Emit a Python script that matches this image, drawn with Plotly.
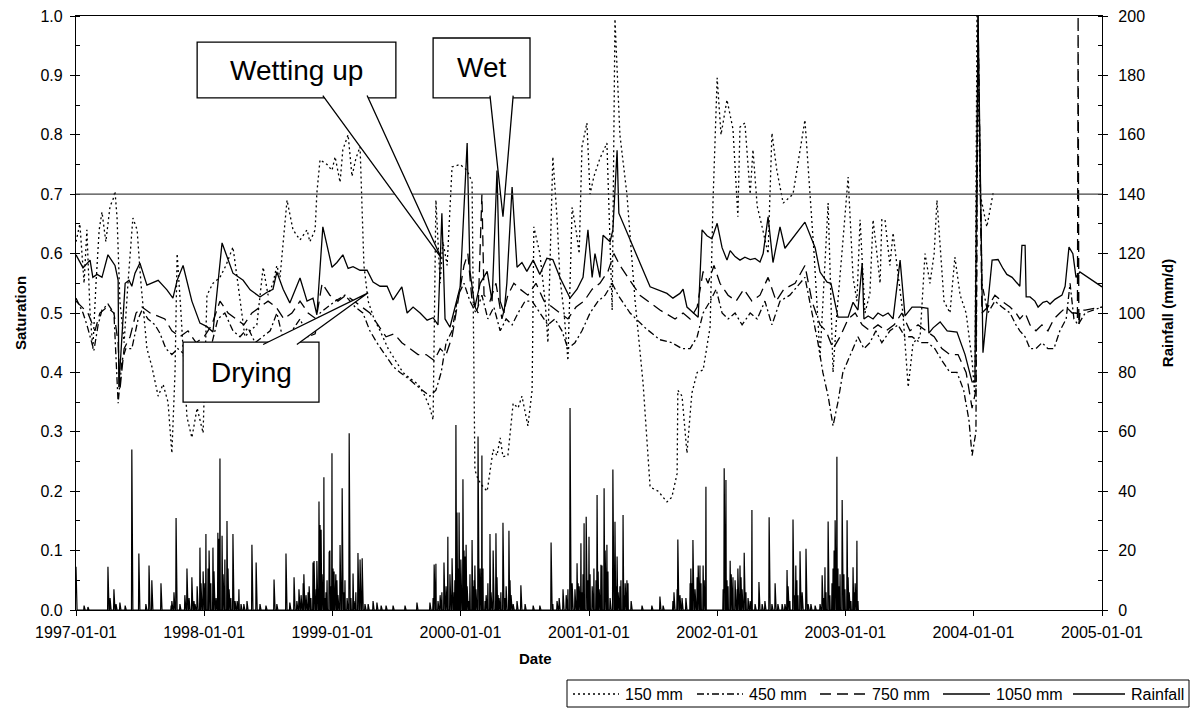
import numpy as np
import pandas as pd
import plotly.graph_objects as go

START = pd.Timestamp("1997-01-01")
FONT = "Liberation Sans, Arial, sans-serif"

# ---- Soil saturation readings (day offset from 1997-01-01, saturation) ----
day_150 = [0, 11, 23, 31, 40, 48, 57, 66, 74, 85, 97, 105, 111, 117, 125, 137, 148, 162, 174, 185,
           202, 216, 234, 248, 262, 273, 282, 288, 299, 316, 330, 345, 362, 373, 390, 410, 427, 447,
           461, 481, 496, 515, 533, 547, 561, 572, 581, 601, 618, 638, 658, 666, 681, 686, 695, 715,
           729, 738, 752, 760, 775, 786, 797, 809, 820, 832, 849, 866, 889, 909, 931, 951, 974, 994,
           1008, 1017, 1025, 1037, 1045, 1057, 1071, 1094, 1114, 1128, 1136, 1145, 1156, 1171, 1179,
           1188, 1199, 1208, 1216, 1230, 1245, 1259, 1270, 1287, 1299, 1304, 1321, 1336, 1344, 1358,
           1370, 1378, 1390, 1401, 1413, 1424, 1433, 1441, 1455, 1464, 1475, 1492, 1512, 1527, 1535,
           1549, 1569, 1592, 1615, 1635, 1658, 1683, 1697, 1712, 1714, 1726, 1740, 1754, 1769, 1786,
           1806, 1814, 1826, 1837, 1854, 1871, 1885, 1891, 1905, 1920, 1928, 1940, 1954, 1971, 1982,
           1996, 2014, 2042, 2076, 2090, 2102, 2119, 2142, 2156, 2167, 2184, 2199, 2213, 2224, 2233,
           2247, 2261, 2270, 2281, 2290, 2295, 2304, 2318, 2327, 2338, 2355, 2370, 2384, 2404, 2418,
           2432, 2444, 2452, 2461, 2472, 2489, 2503, 2518, 2535, 2552, 2560, 2566, 2575, 2594, 2612]
sat_150 = [0.62, 0.65, 0.55, 0.64, 0.50, 0.44, 0.55, 0.64, 0.67, 0.62, 0.68, 0.69, 0.705, 0.66, 0.52,
           0.45, 0.55, 0.66, 0.64, 0.55, 0.44, 0.41, 0.36, 0.38, 0.35, 0.264, 0.40, 0.60, 0.50, 0.325,
           0.29, 0.34, 0.298, 0.53, 0.55, 0.56, 0.58, 0.611, 0.55, 0.46, 0.47, 0.48, 0.577, 0.53, 0.55,
           0.58, 0.56, 0.69, 0.64, 0.623, 0.64, 0.62, 0.64, 0.702, 0.758, 0.75, 0.74, 0.763, 0.72, 0.775,
           0.80, 0.73, 0.76, 0.78, 0.58, 0.52, 0.49, 0.47, 0.44, 0.42, 0.40, 0.39, 0.38, 0.36, 0.34,
           0.32, 0.69, 0.55, 0.62, 0.58, 0.746, 0.75, 0.74, 0.72, 0.236, 0.22, 0.21, 0.20, 0.23, 0.27,
           0.26, 0.29, 0.258, 0.26, 0.348, 0.34, 0.36, 0.31, 0.37, 0.645, 0.60, 0.52, 0.45, 0.763, 0.66,
           0.56, 0.50, 0.42, 0.678, 0.64, 0.60, 0.78, 0.82, 0.70, 0.73, 0.76, 0.786, 0.505, 0.995, 0.80,
           0.70, 0.522, 0.382, 0.207, 0.20, 0.182, 0.19, 0.23, 0.37, 0.36, 0.264, 0.365, 0.40, 0.404,
           0.477, 0.685, 0.896, 0.80, 0.859, 0.81, 0.662, 0.813, 0.82, 0.70, 0.775, 0.68, 0.645, 0.60,
           0.803, 0.74, 0.685, 0.70, 0.825, 0.70, 0.60, 0.426, 0.685, 0.40, 0.50, 0.62, 0.729, 0.56,
           0.52, 0.657, 0.50, 0.533, 0.657, 0.60, 0.55, 0.657, 0.657, 0.58, 0.635, 0.58, 0.50, 0.375,
           0.45, 0.46, 0.60, 0.55, 0.60, 0.69, 0.62, 0.52, 0.50, 0.594, 0.53, 0.50, 0.42, 0.36, 1.0,
           0.70, 0.645, 0.702]

day_450 = [0, 20, 31, 40, 51, 63, 74, 91, 108, 120, 131, 142, 159, 177, 188, 205, 225, 239, 256, 273,
           290, 310, 330, 350, 367, 387, 404, 424, 447, 467, 490, 510, 530, 553, 572, 592, 615, 638,
           661, 681, 695, 715, 738, 766, 795, 817, 837, 857, 880, 903, 923, 946, 965, 985, 1008, 1025,
           1040, 1054, 1071, 1088, 1105, 1122, 1139, 1156, 1173, 1190, 1208, 1225, 1242, 1259, 1279,
           1299, 1321, 1344, 1364, 1384, 1401, 1421, 1441, 1464, 1487, 1507, 1527, 1544, 1578, 1621,
           1663, 1697, 1726, 1749, 1769, 1786, 1806, 1823, 1840, 1857, 1877, 1897, 1920, 1940, 1962,
           1982, 2005, 2033, 2076, 2096, 2113, 2127, 2142, 2156, 2170, 2184, 2199, 2213, 2227, 2244,
           2261, 2278, 2295, 2318, 2341, 2361, 2381, 2404, 2426, 2446, 2466, 2489, 2509, 2528, 2543,
           2552, 2563, 2569, 2580, 2597, 2617, 2637, 2660, 2677, 2688, 2703, 2717, 2734, 2751, 2768,
           2785, 2802, 2820, 2831, 2842, 2854, 2874, 2922]
sat_450 = [0.525, 0.50, 0.48, 0.46, 0.437, 0.48, 0.505, 0.515, 0.50, 0.348, 0.42, 0.44, 0.44, 0.49,
           0.505, 0.49, 0.48, 0.466, 0.44, 0.43, 0.44, 0.43, 0.39, 0.36, 0.40, 0.45, 0.49, 0.50, 0.47,
           0.46, 0.475, 0.45, 0.46, 0.47, 0.50, 0.45, 0.47, 0.49, 0.46, 0.465, 0.50, 0.51, 0.52, 0.53,
           0.51, 0.50, 0.47, 0.45, 0.43, 0.41, 0.40, 0.39, 0.38, 0.37, 0.36, 0.37, 0.40, 0.45, 0.47,
           0.53, 0.55, 0.52, 0.50, 0.53, 0.49, 0.51, 0.47, 0.49, 0.48, 0.50, 0.52, 0.52, 0.50, 0.48,
           0.49, 0.47, 0.44, 0.45, 0.47, 0.50, 0.52, 0.53, 0.55, 0.53, 0.50, 0.475, 0.455, 0.45, 0.44,
           0.44, 0.46, 0.50, 0.52, 0.54, 0.50, 0.49, 0.50, 0.48, 0.50, 0.49, 0.52, 0.48, 0.52, 0.53,
           0.56, 0.50, 0.45, 0.40, 0.36, 0.31, 0.35, 0.40, 0.42, 0.44, 0.46, 0.44, 0.45, 0.47, 0.45,
           0.47, 0.48, 0.46, 0.46, 0.45, 0.45, 0.44, 0.42, 0.40, 0.40, 0.37, 0.32, 0.26, 0.30, 0.98,
           0.55, 0.50, 0.52, 0.51, 0.50, 0.48, 0.47, 0.46, 0.44, 0.44, 0.45, 0.44, 0.44, 0.47, 0.49,
           0.55, 0.49, 0.48, 0.50, 0.51]

day_750 = [0, 17, 34, 54, 68, 88, 108, 120, 125, 137, 154, 171, 188, 211, 234, 253, 273, 296, 319,
           342, 365, 387, 410, 433, 456, 478, 501, 524, 547, 570, 592, 615, 638, 661, 684, 701, 723,
           746, 769, 792, 815, 837, 860, 883, 906, 928, 951, 974, 997, 1020, 1037, 1054, 1071, 1088,
           1105, 1116, 1128, 1145, 1156, 1162, 1179, 1196, 1213, 1230, 1247, 1265, 1287, 1310, 1333,
           1356, 1378, 1401, 1424, 1447, 1470, 1492, 1515, 1532, 1549, 1606, 1663, 1706, 1729, 1749,
           1769, 1786, 1800, 1817, 1834, 1857, 1880, 1902, 1925, 1948, 1971, 1994, 2016, 2048, 2076,
           2096, 2119, 2136, 2156, 2176, 2199, 2219, 2239, 2261, 2284, 2307, 2330, 2352, 2375, 2398,
           2421, 2444, 2466, 2489, 2512, 2535, 2552, 2563, 2569, 2580, 2597, 2617, 2637, 2660, 2677,
           2688, 2703, 2717, 2734, 2751, 2768, 2785, 2802, 2820, 2837, 2848, 2852, 2854, 2856, 2860,
           2874, 2922]
sat_750 = [0.52, 0.51, 0.50, 0.47, 0.50, 0.51, 0.50, 0.45, 0.37, 0.44, 0.46, 0.50, 0.51, 0.50, 0.495,
           0.49, 0.47, 0.46, 0.47, 0.45, 0.46, 0.48, 0.52, 0.50, 0.49, 0.48, 0.50, 0.51, 0.52, 0.51,
           0.49, 0.50, 0.52, 0.50, 0.49, 0.55, 0.53, 0.52, 0.53, 0.52, 0.51, 0.50, 0.48, 0.46, 0.465,
           0.45, 0.44, 0.43, 0.43, 0.42, 0.44, 0.43, 0.46, 0.52, 0.58, 0.60, 0.52, 0.50, 0.70, 0.53,
           0.52, 0.55, 0.49, 0.53, 0.55, 0.54, 0.53, 0.55, 0.52, 0.51, 0.50, 0.49, 0.51, 0.52, 0.54,
           0.55, 0.57, 0.60, 0.58, 0.53, 0.505, 0.49, 0.50, 0.49, 0.51, 0.57, 0.55, 0.58, 0.55, 0.53,
           0.52, 0.54, 0.52, 0.53, 0.56, 0.52, 0.54, 0.55, 0.58, 0.52, 0.48, 0.47, 0.44, 0.46, 0.49,
           0.50, 0.48, 0.47, 0.48, 0.47, 0.48, 0.50, 0.47, 0.48, 0.47, 0.46, 0.44, 0.43, 0.43, 0.40,
           0.34, 0.37, 1.0, 0.50, 0.51, 0.53, 0.52, 0.51, 0.50, 0.49, 0.50, 0.48, 0.47, 0.48, 0.47,
           0.49, 0.50, 0.51, 0.50, 0.50, 0.49, 1.0, 0.48, 0.505, 0.505, 0.51]

day_1050 = [0, 20, 40, 48, 60, 74, 91, 111, 120, 122, 140, 151, 159, 168, 182, 202, 234, 259, 276,
            288, 305, 330, 353, 373, 390, 416, 447, 476, 496, 524, 544, 561, 572, 590, 609, 638, 658,
            675, 686, 703, 729, 743, 760, 775, 789, 809, 829, 846, 866, 886, 903, 928, 943, 960, 980,
            1000, 1017, 1031, 1042, 1051, 1065, 1094, 1114, 1122, 1136, 1151, 1171, 1185, 1199, 1208,
            1219, 1227, 1242, 1256, 1270, 1284, 1302, 1321, 1341, 1358, 1378, 1407, 1427, 1444, 1458,
            1470, 1478, 1492, 1501, 1521, 1529, 1541, 1546, 1635, 1683, 1700, 1720, 1729, 1740, 1772,
            1783, 1797, 1811, 1826, 1840, 1854, 1863, 1877, 1891, 1905, 1920, 1934, 1948, 1957, 1971,
            1985, 2005, 2019, 2076, 2105, 2119, 2139, 2150, 2170, 2199, 2213, 2227, 2239, 2244, 2256,
            2270, 2284, 2298, 2313, 2327, 2347, 2361, 2381, 2404, 2426, 2429, 2441, 2461, 2481, 2509,
            2532, 2552, 2560, 2569, 2583, 2609, 2626, 2640, 2651, 2666, 2680, 2688, 2694, 2703, 2706,
            2717, 2731, 2740, 2754, 2765, 2774, 2788, 2808, 2817, 2828, 2839, 2848, 2859, 2922]
sat_1050 = [0.598, 0.576, 0.589, 0.56, 0.565, 0.56, 0.598, 0.58, 0.555, 0.375, 0.55, 0.555, 0.545,
            0.567, 0.584, 0.547, 0.555, 0.539, 0.525, 0.555, 0.58, 0.52, 0.483, 0.477, 0.468, 0.618,
            0.567, 0.555, 0.539, 0.527, 0.535, 0.54, 0.569, 0.54, 0.517, 0.559, 0.52, 0.525, 0.497,
            0.645, 0.577, 0.585, 0.598, 0.575, 0.578, 0.572, 0.572, 0.552, 0.545, 0.545, 0.522, 0.544,
            0.50, 0.51, 0.50, 0.488, 0.492, 0.48, 0.668, 0.49, 0.476, 0.544, 0.786, 0.57, 0.51, 0.55,
            0.57, 0.52, 0.74, 0.52, 0.50, 0.55, 0.712, 0.577, 0.585, 0.57, 0.589, 0.565, 0.592, 0.59,
            0.56, 0.525, 0.54, 0.56, 0.64, 0.56, 0.60, 0.56, 0.631, 0.62, 0.64, 0.774, 0.668, 0.544,
            0.533, 0.525, 0.533, 0.54, 0.51, 0.493, 0.64, 0.63, 0.625, 0.651, 0.61, 0.589, 0.605, 0.595,
            0.589, 0.594, 0.59, 0.592, 0.586, 0.60, 0.662, 0.585, 0.645, 0.609, 0.653, 0.61, 0.569,
            0.552, 0.55, 0.493, 0.493, 0.518, 0.505, 0.584, 0.49, 0.495, 0.49, 0.50, 0.495, 0.50, 0.49,
            0.589, 0.495, 0.51, 0.51, 0.508, 0.466, 0.475, 0.485, 0.47, 0.468, 0.43, 0.384, 0.384, 1.0,
            0.433, 0.589, 0.59, 0.575, 0.565, 0.56, 0.55, 0.545, 0.614, 0.614, 0.527, 0.527, 0.52, 0.51,
            0.518, 0.52, 0.515, 0.523, 0.53, 0.545, 0.611, 0.60, 0.56, 0.569, 0.544]

# ---- Daily rainfall (day offset from 1997-01-01, mm/d); unlisted days are dry ----
rain_day = [0, 23, 34, 91, 97, 108, 114, 125, 140, 159, 179, 199, 208, 216, 242, 271, 273, 279, 285,
            296, 310, 316, 322, 330, 336, 339, 345, 347, 353, 356, 362, 367, 370, 376, 379, 384, 390,
            393, 399, 404, 407, 410, 416, 419, 424, 430, 433, 436, 441, 447, 453, 459, 464, 470, 478,
            487, 501, 513, 524, 541, 564, 572, 598, 609, 621, 629, 635, 641, 647, 649, 655, 661, 664,
            669, 675, 678, 684, 686, 692, 695, 698, 701, 703, 706, 709, 712, 715, 721, 723, 726, 729,
            732, 735, 738, 740, 743, 746, 752, 758, 760, 763, 766, 772, 778, 780, 783, 789, 792, 797,
            803, 809, 815, 823, 832, 846, 857, 869, 883, 903, 937, 971, 1008, 1017, 1020, 1025, 1031,
            1037, 1042, 1048, 1054, 1059, 1065, 1071, 1077, 1079, 1082, 1085, 1088, 1091, 1094, 1096,
            1102, 1105, 1108, 1111, 1114, 1119, 1122, 1128, 1131, 1134, 1136, 1139, 1145, 1151, 1156,
            1159, 1165, 1168, 1173, 1179, 1182, 1188, 1190, 1196, 1199, 1202, 1205, 1210, 1216, 1222,
            1225, 1227, 1233, 1236, 1239, 1245, 1256, 1267, 1279, 1302, 1321, 1353, 1358, 1370, 1376,
            1387, 1396, 1401, 1407, 1413, 1415, 1421, 1427, 1430, 1433, 1438, 1441, 1444, 1447, 1453,
            1455, 1458, 1461, 1464, 1470, 1475, 1481, 1484, 1487, 1490, 1495, 1498, 1504, 1507, 1509,
            1512, 1515, 1521, 1529, 1535, 1538, 1541, 1544, 1546, 1549, 1552, 1558, 1561, 1564, 1569,
            1572, 1581, 1612, 1640, 1663, 1672, 1700, 1703, 1712, 1714, 1720, 1726, 1737, 1749, 1751,
            1754, 1757, 1763, 1769, 1772, 1777, 1780, 1786, 1789, 1794, 1843, 1846, 1851, 1854, 1857,
            1863, 1866, 1871, 1877, 1883, 1885, 1891, 1894, 1897, 1903, 1908, 1914, 1920, 1925, 1934,
            1945, 1954, 1962, 1974, 1982, 1991, 1999, 2011, 2019, 2025, 2028, 2033, 2042, 2047, 2050,
            2053, 2056, 2062, 2068, 2070, 2079, 2085, 2093, 2105, 2119, 2125, 2130, 2133, 2136, 2142,
            2147, 2153, 2156, 2159, 2162, 2164, 2167, 2170, 2173, 2176, 2182, 2184, 2187, 2190, 2196,
            2199, 2202, 2207, 2213, 2216, 2219, 2224, 2227]
rain_mm = [14.6, 1.5, 1, 14.6, 4, 7, 2, 2.5, 1.5, 54, 19, 2, 15, 10, 9, 1.5, 3, 6, 31, 2, 5, 14, 4, 11,
           3, 2, 8, 5, 21, 9, 13, 9, 25.6, 14, 20, 9, 21, 13, 4, 26, 24, 51, 25, 12, 17, 30, 14, 7, 4,
           25.6, 3, 3, 7, 2, 2, 3, 22, 16, 2, 1.5, 10.3, 2, 19, 2.5, 11, 3, 7, 5, 9, 12, 5, 6, 8, 4, 16,
           16.5, 7, 16.5, 36.5, 28.6, 27, 12, 5, 44.7, 4, 6, 10, 19.4, 20, 8, 52.8, 14, 13, 11, 12, 10, 5,
           21.9, 41, 28, 6, 10, 4, 59.5, 13, 4, 12.3, 3, 6, 19.2, 17, 17.4, 2, 2, 3, 2.5, 1.5, 1.5, 1.5,
           1.5, 2.5, 2.5, 4, 15.3, 15.6, 3, 5, 6, 16, 8, 24.7, 12, 17.4, 6, 10, 62.3, 32.8, 14, 32.8,
           10, 17, 44, 20, 18, 22, 8, 3, 12, 23.6, 8, 10, 15, 7, 58.4, 14, 52, 14, 3, 5, 9, 25.6, 6, 20,
           9, 25.8, 11, 5, 4, 6, 29.4, 4, 8, 3, 26.7, 10, 5, 2, 3, 8.3, 2, 1.5, 1.5, 22.7, 2, 3, 4, 7, 5,
           7, 68, 9, 5, 7, 15.7, 9, 8, 22.5, 6, 12, 29.2, 31.4, 24.7, 10, 24.7, 12, 8, 14, 10, 38.7, 13,
           7, 15.2, 15, 41, 20, 10, 22, 13, 4, 47.3, 29.7, 8, 18, 6, 3, 8, 10, 32, 5, 9, 10, 9, 3, 1.5,
           1.5, 4.5, 1.5, 3, 6, 7, 23.7, 5, 4, 4, 9, 14, 9, 23.6, 7, 11, 15, 15, 9, 15, 10, 41.5, 7,
           47.7, 43.8, 10, 8, 16.6, 12, 11, 10, 7, 14, 15, 11, 7, 19.3, 6, 4, 3, 33.7, 2, 9.4, 2, 3,
           31.2, 2, 9, 2, 2, 2, 13.5, 8, 3, 30.5, 5, 15, 10, 5, 19.8, 6, 4, 20.6, 2, 2, 1.5, 2, 11.7, 4,
           14.4, 6, 29.8, 5, 9, 14, 20, 30.2, 12, 51.6, 14, 8, 12, 37, 8, 12, 7, 30.2, 11, 6, 3, 14.4,
           6, 9, 23.3, 3]

# callout boxes: label, box corners (dates, saturation), pointer base on the box edge, pointer tip
callouts = [
    dict(text="Wetting up", x0="1997-12-12", x1="1999-07-01", y0=0.862, y1=0.956,
         base=("1998-12-05", "1999-04-10"), edge=0.866, tip=("1999-11-07", 0.593)),
    dict(text="Wet", x0="1999-10-15", x1="2000-07-17", y0=0.862, y1=0.963,
         base=("2000-03-25", "2000-05-30"), edge=0.866, tip=("2000-05-01", 0.662)),
    dict(text="Drying", x0="1997-11-02", x1="1998-11-24", y0=0.350, y1=0.451,
         base=("1998-06-18", "1998-09-22"), edge=0.447, tip=("1999-04-13", 0.534)),
]

# figure geometry (pixels) used to place the legend box below the axes
W, H = 1193, 709
ML, MR, MT, MB = 76, 91, 16, 99
PW, PH = W - ML - MR, H - MT - MB


def px(xp):
    return (xp - ML) / PW


def py(yp):
    return (H - MB - yp) / PH


def to_dates(days):
    return START + pd.to_timedelta(np.asarray(days), unit="D")


rain_series = np.zeros(max(rain_day) + 4)
rain_series[rain_day] = rain_mm
rain_dates = to_dates(np.arange(rain_series.size))

fig = go.Figure()
series = [
    ("150 mm", day_150, sat_150, "2px,3px"),
    ("450 mm", day_450, sat_450, "7px,3px,2px,3px"),
    ("750 mm", day_750, sat_750, "11px,6px"),
    ("1050 mm", day_1050, sat_1050, "solid"),
]
for name, d, s, dash in series:
    fig.add_trace(go.Scatter(x=to_dates(d), y=s, name=name, mode="lines", showlegend=False,
                             line=dict(color="black", width=1.3, dash=dash)))
fig.add_trace(go.Scatter(x=rain_dates, y=rain_series, name="Rainfall", mode="lines",
                         yaxis="y2", showlegend=False, line=dict(color="black", width=1.2)))

shapes = [dict(type="line", xref="paper", x0=0, x1=1, yref="y", y0=0.7, y1=0.7,
               line=dict(color="#444444", width=1.3), layer="above")]
annotations = []
for c in callouts:
    shapes.append(dict(type="rect", xref="x", yref="y", x0=c["x0"], x1=c["x1"], y0=c["y0"],
                       y1=c["y1"], fillcolor="white", line=dict(color="black", width=1.3),
                       layer="above"))
    b0, b1 = c["base"]
    tx, ty = c["tip"]
    shapes.append(dict(type="path", xref="x", yref="y", layer="above",
                       path=f"M {b0} {c['edge']} L {tx} {ty} L {b1} {c['edge']}",
                       fillcolor="white", line=dict(color="black", width=1.3)))
    xm = pd.Timestamp(c["x0"]) + (pd.Timestamp(c["x1"]) - pd.Timestamp(c["x0"])) / 2
    annotations.append(dict(x=xm, y=(c["y0"] + c["y1"]) / 2, xref="x", yref="y", text=c["text"],
                            showarrow=False, font=dict(family=FONT, size=28, color="black")))

annotations.append(dict(text="<b>Date</b>", xref="paper", yref="paper", x=0.448, y=py(669),
                        showarrow=False, font=dict(family=FONT, size=15, color="black")))

# legend: framed row of line samples with labels
legend_items = [("150 mm", "2px,3px"), ("450 mm", "7px,3px,2px,3px"), ("750 mm", "11px,6px"),
                ("1050 mm", "solid"), ("Rainfall", "solid")]
sample_left = [573, 697, 820, 943, 1073]
sample_len = [46, 46, 46, 47, 52]
leg_top, leg_bottom, leg_left, leg_right, leg_mid = 680, 707, 567, 1189, 694
shapes.append(dict(type="rect", xref="paper", yref="paper", x0=px(leg_left), x1=px(leg_right),
                   y0=py(leg_bottom), y1=py(leg_top), fillcolor="white",
                   line=dict(color="black", width=1)))
for (label, dash), x0, ln in zip(legend_items, sample_left, sample_len):
    shapes.append(dict(type="line", xref="paper", yref="paper", x0=px(x0), x1=px(x0 + ln),
                       y0=py(leg_mid), y1=py(leg_mid),
                       line=dict(color="black", width=1.3, dash=dash)))
    annotations.append(dict(text=label, xref="paper", yref="paper", x=px(x0 + ln + 4),
                            y=py(leg_mid), xanchor="left", yanchor="middle", showarrow=False,
                            font=dict(family=FONT, size=16, color="black")))

fig.update_layout(
    width=W, height=H,
    margin=dict(l=ML, r=MR, t=MT, b=MB, autoexpand=False),
    paper_bgcolor="white", plot_bgcolor="white",
    font=dict(family=FONT, size=16, color="black"),
    showlegend=False,
    xaxis=dict(type="date", range=["1997-01-01", "2005-01-01"], dtick="M12",
               tick0="1997-01-01", tickformat="%Y-%m-%d", showgrid=False, zeroline=False,
               showline=True, linecolor="black", linewidth=1.3, mirror=True,
               ticks="outside", ticklen=5, tickcolor="black", ticklabelstandoff=3,
               tickfont=dict(size=16)),
    yaxis=dict(range=[0, 1.0], dtick=0.1, tickformat=".1f", showgrid=False, zeroline=False,
               showline=True, linecolor="black", linewidth=1.3, ticks="outside", ticklen=5,
               tickcolor="black", ticklabelstandoff=4, tickfont=dict(size=16),
               minor=dict(dtick=0.05, ticks="inside", ticklen=4, tickcolor="black"),
               title=dict(text="<b>Saturation</b>", standoff=10,
                          font=dict(family=FONT, size=15))),
    yaxis2=dict(range=[0, 200], dtick=20, overlaying="y", side="right", showgrid=False,
                zeroline=False, showline=True, linecolor="black", linewidth=1.3,
                ticks="outside", ticklen=5, tickcolor="black", ticklabelstandoff=7,
                tickfont=dict(size=16),
                minor=dict(dtick=10, ticks="inside", ticklen=4, tickcolor="black"),
                title=dict(text="<b>Rainfall (mm/d)</b>", standoff=18,
                           font=dict(family=FONT, size=15))),
    shapes=shapes,
    annotations=annotations,
)

fig.write_html("out.html")
